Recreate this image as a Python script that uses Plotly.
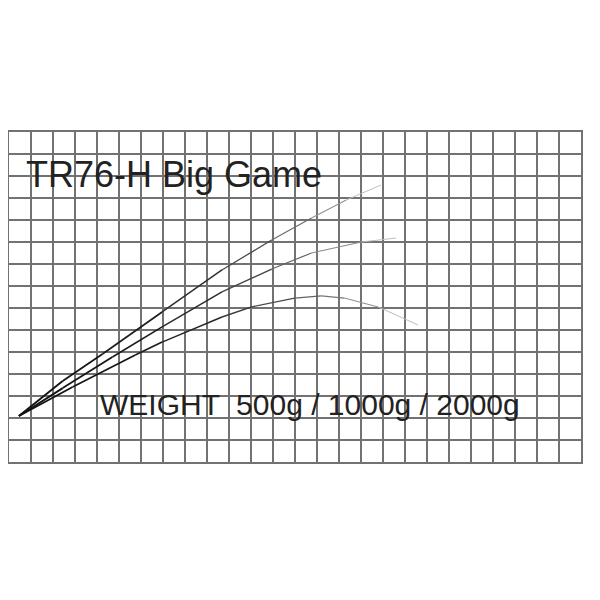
import plotly.graph_objects as go

# bend curves (grid units: 26 x 15 cells)
x_500 = [0.45, 2.44, 4.25, 6.96, 9.68, 11.94, 13.75, 15.33, 16.91]
y_500 = [2.09, 3.68, 4.91, 6.82, 8.73, 10.09, 11.09, 11.91, 12.59]

x_1000 = [0.45, 2.44, 4.70, 6.96, 9.68, 11.94, 13.75, 16.01, 17.59]
y_1000 = [2.09, 3.36, 4.77, 6.14, 7.73, 8.77, 9.50, 10.00, 10.18]

x_2000 = [0.45, 2.89, 5.74, 6.96, 9.68, 11.03, 12.98, 14.20, 15.24, 16.78, 18.59]
y_2000 = [2.09, 3.41, 4.86, 5.45, 6.59, 7.05, 7.45, 7.55, 7.45, 7.05, 6.23]

title_text = "TR76-H Big Game"
weight_text = "WEIGHT  500g / 1000g / 2000g"


def fade(t):
    v = int(20 + 190 * t ** 2.8)
    return f"rgb({v},{v},{v})"


fig = go.Figure()

for xs, ys in [(x_500, y_500), (x_1000, y_1000), (x_2000, y_2000)]:
    n = len(xs)
    for i in range(n - 1):
        t = (xs[i] + xs[i + 1]) / 2 / xs[-1]
        fig.add_trace(go.Scatter(
            x=xs[i:i + 2],
            y=ys[i:i + 2],
            mode="lines",
            line=dict(color=fade(t), width=2.0 - 1.1 * t),
            hoverinfo="skip",
            showlegend=False))

fig.add_annotation(
    x=0.7, y=13.05, xref="x", yref="y",
    text=title_text, showarrow=False,
    xanchor="left", yanchor="middle",
    font=dict(family="Liberation Sans", size=36, color="#222222"))

fig.add_annotation(
    x=4.05, y=2.6, xref="x", yref="y",
    text=weight_text, showarrow=False,
    xanchor="left", yanchor="middle",
    font=dict(family="Liberation Sans", size=30, color="#222222"))

axis_style = dict(
    showticklabels=False,
    ticks="",
    dtick=1,
    showgrid=True,
    gridcolor="#727272",
    gridwidth=1.6,
    zeroline=False,
    showline=True,
    linecolor="#727272",
    linewidth=1.6,
    mirror=True,
    fixedrange=True)

fig.update_xaxes(range=[0, 26], **axis_style)
fig.update_yaxes(range=[0, 15], **axis_style)

fig.update_layout(
    width=600, height=600,
    margin=dict(l=1, r=27, t=124, b=146),
    plot_bgcolor="white",
    paper_bgcolor="white")

fig.write_html("out.html")
